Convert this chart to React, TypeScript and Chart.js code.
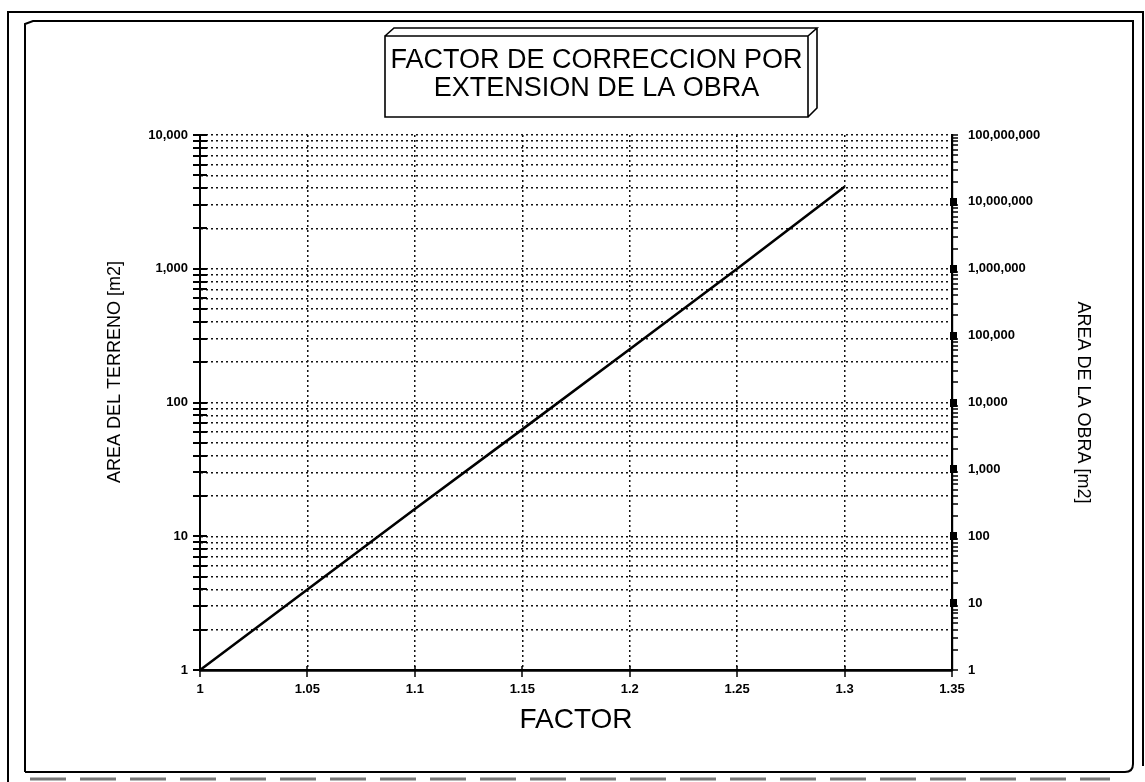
import React, { useEffect, useRef } from "react";
import { Chart, registerables } from "chart.js";

Chart.register(...registerables);

// ---- data ----
const FACTOR = [1, 1.05, 1.1, 1.15, 1.2, 1.25, 1.3];
const AREA_TERRENO = [1, 4, 16, 63, 250, 1000, 4100];
const X_TICKS = [1, 1.05, 1.1, 1.15, 1.2, 1.25, 1.3, 1.35];
const LEFT_MIN = 1;
const LEFT_MAX = 10000;
const RIGHT_MIN = 1;
const RIGHT_MAX = 100000000;
const TITLE_LINES = ["FACTOR DE CORRECCION POR", "EXTENSION DE LA OBRA"];
const X_TITLE = "FACTOR";
const Y_LEFT_TITLE = "AREA DEL TERRENO [m2]";
const Y_RIGHT_TITLE = "AREA DE LA OBRA [m2]";

const FONT = "'Liberation Sans', Arial, Helvetica, sans-serif";

function logTickValues(min: number, max: number): number[] {
  const out: number[] = [];
  const e0 = Math.round(Math.log10(min));
  const e1 = Math.round(Math.log10(max));
  for (let e = e0; e < e1; e++) {
    for (let s = 1; s <= 9; s++) out.push(s * Math.pow(10, e));
  }
  out.push(Math.pow(10, e1));
  return out;
}

function isMajor(v: number): boolean {
  const l = Math.round(Math.log10(v));
  return Math.abs(v - Math.pow(10, l)) < 1e-9 * v;
}

const LEFT_TICKS = logTickValues(LEFT_MIN, LEFT_MAX);
const RIGHT_TICKS = logTickValues(RIGHT_MIN, RIGHT_MAX);

const decor = {
  id: "decor",
  beforeDraw(chart: any) {
    const ctx = chart.ctx as CanvasRenderingContext2D;
    ctx.save();
    ctx.fillStyle = "#fff";
    ctx.fillRect(0, 0, chart.width, chart.height);
    ctx.strokeStyle = "#000";
    ctx.lineWidth = 2;
    // outer frame
    ctx.beginPath();
    ctx.moveTo(8, 782);
    ctx.lineTo(8, 12);
    ctx.lineTo(1143, 12);
    ctx.lineTo(1143, 766);
    ctx.stroke();
    // inner frame with bevel
    ctx.beginPath();
    ctx.moveTo(25, 772);
    ctx.lineTo(25, 24);
    ctx.lineTo(33, 21);
    ctx.lineTo(1133, 21);
    ctx.lineTo(1133, 764);
    ctx.quadraticCurveTo(1133, 772, 1125, 772);
    ctx.lineTo(25, 772);
    ctx.stroke();
    // scan artefact dashes along the bottom
    ctx.setLineDash([36, 14]);
    ctx.lineWidth = 3;
    ctx.strokeStyle = "#777";
    ctx.beginPath();
    ctx.moveTo(30, 779);
    ctx.lineTo(1110, 779);
    ctx.stroke();
    ctx.setLineDash([]);

    // 3D title box
    const L = 385, R = 808, T = 36, B = 117, D = 9;
    ctx.strokeStyle = "#000";
    ctx.lineWidth = 1.6;
    ctx.beginPath();
    ctx.rect(L, T, R - L, B - T);
    ctx.moveTo(L, T);
    ctx.lineTo(L + D, T - D + 1);
    ctx.lineTo(R + D, T - D + 1);
    ctx.lineTo(R, T);
    ctx.moveTo(R + D, T - D + 1);
    ctx.lineTo(R + D, B - D);
    ctx.lineTo(R, B);
    ctx.stroke();
    ctx.fillStyle = "#000";
    ctx.font = `27px ${FONT}`;
    ctx.textAlign = "center";
    ctx.textBaseline = "middle";
    const cx = (L + R) / 2;
    ctx.fillText(TITLE_LINES[0], cx, 61);
    ctx.fillText(TITLE_LINES[1], cx, 89);

    // left axis title (sits a little above the plot centre in the reference)
    ctx.save();
    ctx.translate(115, 372);
    ctx.rotate(-Math.PI / 2);
    ctx.font = `18px ${FONT}`;
    ctx.fillText(Y_LEFT_TITLE, 0, 0);
    ctx.restore();
    ctx.restore();
  },
  afterDraw(chart: any) {
    const ctx = chart.ctx as CanvasRenderingContext2D;
    const ca = chart.chartArea;
    const yS = chart.scales.y;
    const y2S = chart.scales.y2;
    const xS = chart.scales.x;
    ctx.save();
    ctx.strokeStyle = "#000";
    ctx.fillStyle = "#000";
    // left axis crossing ticks
    ctx.lineWidth = 2;
    LEFT_TICKS.forEach((v) => {
      const py = Math.round(yS.getPixelForValue(v));
      ctx.beginPath();
      ctx.moveTo(ca.left - 7, py);
      ctx.lineTo(ca.left + 7, py);
      ctx.stroke();
    });
    // right axis ticks
    ctx.lineWidth = 1.5;
    RIGHT_TICKS.forEach((v) => {
      const py = Math.round(y2S.getPixelForValue(v));
      if (isMajor(v) && v !== RIGHT_MIN && v !== RIGHT_MAX) {
        ctx.fillRect(ca.right - 2, py - 4, 7, 8);
      } else {
        ctx.beginPath();
        ctx.moveTo(ca.right, py);
        ctx.lineTo(ca.right + 6, py);
        ctx.stroke();
      }
    });
    // x axis ticks
    ctx.lineWidth = 1.5;
    X_TICKS.forEach((v) => {
      const px = Math.round(xS.getPixelForValue(v));
      ctx.beginPath();
      ctx.moveTo(px, ca.bottom - 4);
      ctx.lineTo(px, ca.bottom + 7);
      ctx.stroke();
    });
    ctx.restore();
  },
};

export default function App() {
  const ref = useRef<HTMLCanvasElement | null>(null);

  useEffect(() => {
    if (!ref.current) return;
    const chart = new Chart(ref.current, {
      type: "line",
      data: {
        datasets: [
          {
            label: Y_LEFT_TITLE,
            data: FACTOR.map((x, i) => ({ x, y: AREA_TERRENO[i] })),
            borderColor: "#000",
            borderWidth: 2.6,
            pointRadius: 0,
            tension: 0,
            fill: false,
            yAxisID: "y",
            xAxisID: "x",
          },
        ],
      },
      options: {
        responsive: false,
        animation: false,
        devicePixelRatio: 1,
        layout: { padding: { top: 135, left: 0, right: 0, bottom: 0 } },
        plugins: {
          legend: { display: false },
          tooltip: { enabled: false },
          title: { display: false },
        },
        scales: {
          x: {
            type: "linear",
            min: 1,
            max: 1.35,
            afterBuildTicks: (s: any) => {
              s.ticks = X_TICKS.map((v) => ({ value: v }));
            },
            ticks: {
              autoSkip: false,
              maxRotation: 0,
              color: "#000",
              padding: 12,
              font: { family: FONT, size: 13, weight: "bold" },
              callback: (v: any) => String(Number(Number(v).toFixed(2))),
            },
            grid: { color: "#111", lineWidth: 1.5, drawTicks: false },
            border: { display: true, color: "#000", width: 2.8, dash: [2, 3] },
            title: {
              display: true,
              text: X_TITLE,
              color: "#000",
              font: { family: FONT, size: 28 },
              padding: { top: 0, bottom: 45 },
            },
            afterFit: (s: any) => {
              s.height = 112;
            },
          },
          y: {
            type: "logarithmic",
            position: "left",
            min: LEFT_MIN,
            max: LEFT_MAX,
            afterBuildTicks: (s: any) => {
              s.ticks = LEFT_TICKS.map((v) => ({ value: v, major: isMajor(v) }));
            },
            ticks: {
              autoSkip: false,
              color: "#000",
              padding: 12,
              font: { family: FONT, size: 13, weight: "bold" },
              callback: (v: any) => (isMajor(Number(v)) ? Number(v).toLocaleString("en-US") : ""),
            },
            grid: { color: "#111", lineWidth: 1.5, drawTicks: false },
            border: { display: true, color: "#000", width: 2, dash: [2, 3] },
            title: { display: false, text: Y_LEFT_TITLE },
            afterFit: (s: any) => {
              s.width = 200;
            },
          },
          y2: {
            type: "logarithmic",
            position: "right",
            display: true,
            min: RIGHT_MIN,
            max: RIGHT_MAX,
            afterBuildTicks: (s: any) => {
              s.ticks = RIGHT_TICKS.map((v) => ({ value: v, major: isMajor(v) }));
            },
            ticks: {
              autoSkip: false,
              color: "#000",
              padding: 16,
              font: { family: FONT, size: 13, weight: "bold" },
              callback: (v: any) => (isMajor(Number(v)) ? Number(v).toLocaleString("en-US") : ""),
            },
            grid: { drawOnChartArea: false, drawTicks: false },
            border: { display: true, color: "#000", width: 2.2 },
            title: {
              display: true,
              text: Y_RIGHT_TITLE,
              color: "#000",
              font: { family: FONT, size: 18 },
              padding: { top: 51, bottom: 0 },
            },
            afterFit: (s: any) => {
              s.width = 193;
            },
          },
        },
      },
      plugins: [decor],
    } as any);
    return () => chart.destroy();
  }, []);

  return (
    <div style={{ position: "absolute", left: 0, top: 0, width: 1145, height: 782 }}>
      <canvas ref={ref} width={1145} height={782} style={{ width: 1145, height: 782, display: "block" }} />
    </div>
  );
}
